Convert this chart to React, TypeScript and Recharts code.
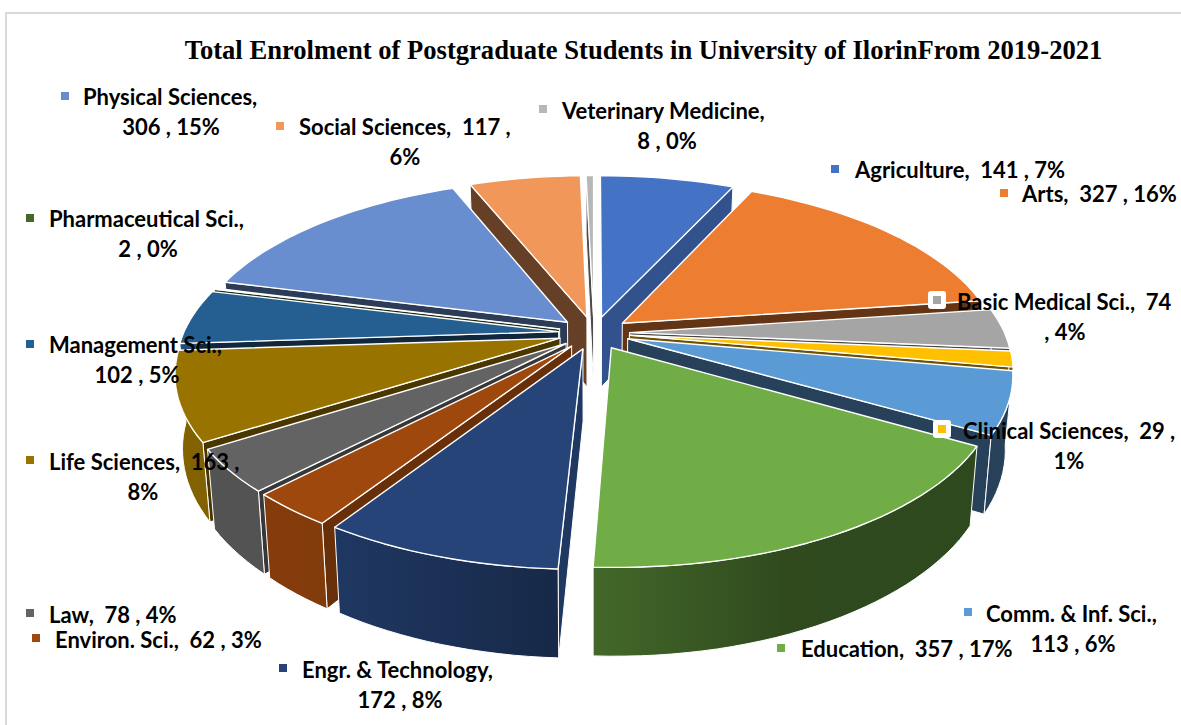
import { Pie, PieChart } from "recharts";

const categories = ["Agriculture", "Arts", "Basic Medical Sci.", "Clinical Sciences", "Comm. & Inf. Sci.", "Education", "Engr. & Technology", "Environ. Sci.", "Law", "Life Sciences", "Management Sci.", "Pharmaceutical Sci.", "Physical Sciences", "Social Sciences", "Veterinary Medicine"];
const enrolment = [141, 327, 74, 29, 113, 357, 172, 62, 78, 163, 102, 2, 306, 117, 8];
const colors = ["#4472c4", "#ed7d31", "#a5a5a5", "#ffc000", "#5b9bd5", "#70ad47", "#264478", "#9e480e", "#636363", "#997300", "#255e91", "#43682b", "#698ed0", "#f1975a", "#b7b7b7"];

const labelLines = [
  ["Agriculture,  141 , 7%"],
  ["Arts,  327 , 16%"],
  ["Basic Medical Sci.,  74", ", 4%"],
  ["Clinical Sciences,  29 ,", "1%"],
  ["Comm. & Inf. Sci.,", "113 , 6%"],
  ["Education,  357 , 17%"],
  ["Engr. & Technology,", "172 , 8%"],
  ["Environ. Sci.,  62 , 3%"],
  ["Law,  78 , 4%"],
  ["Life Sciences,  163 ,", "8%"],
  ["Management Sci.,", "102 , 5%"],
  ["Pharmaceutical Sci.,", "2 , 0%"],
  ["Physical Sciences,", "306 , 15%"],
  ["Social Sciences,  117 ,", "6%"],
  ["Veterinary Medicine,", "8 , 0%"],
];

// where each data label sits: [marker x, marker y, text left, first baseline, second line centre]
const labelSpots = [
  [835, 169, 855, 178, 0],
  [1004, 193, 1022, 202, 0],
  [937, 300, 957, 310, 1065],
  [942, 429, 963, 439, 1069],
  [968, 612, 986, 622, 1073],
  [781, 648, 801, 657, 0],
  [283, 668, 302, 678, 400],
  [36, 638, 55, 648, 0],
  [30, 613, 49, 623, 0],
  [30, 460, 49, 470, 143],
  [30, 344, 49, 353, 137],
  [30, 218, 49, 227, 148],
  [65, 96, 83, 105, 171],
  [280, 126, 299, 135, 405],
  [543, 109, 562, 119, 667],
];

const rows = categories.map((name, i) => ({ name, value: enrolment[i], fill: colors[i], idx: i }));
const reversedRows = [...rows].reverse();

const CX = 594;
const CY = 333;
const RX = 375;
const RY = 173;
const PERSPECTIVE = 0.185;
const EXPLODE = 0.095;
const DEPTH = 71;
const BOTTOM_SHRINK = 0.982;
const RAD = Math.PI / 180;

function shade(hex: string, f: number) {
  const n = parseInt(hex.slice(1), 16);
  const c = [(n >> 16) & 255, (n >> 8) & 255, n & 255].map((v) => Math.round(v * f));
  return `rgb(${c[0]},${c[1]},${c[2]})`;
}

// disc coords -> screen, with a bit of perspective so the front is bigger than the back
function project(u: number, v: number, bottom: boolean) {
  const s = 1 / (1 - PERSPECTIVE * v);
  const x = RX * u * s;
  const y = RY * v * s;
  return bottom ? [CX + x * BOTTOM_SHRINK, CY + y + DEPTH * s] : [CX + x, CY + y];
}

const toPath = (pts: number[][]) => "M" + pts.map((p) => `${p[0].toFixed(1)},${p[1].toFixed(1)}`).join("L") + "Z";

// the rim wall gets lighter towards the left of the pie
function rimLight(t: number) {
  if (t <= 150) return 0.42;
  if (t <= 183) return 0.42 + ((t - 150) / 33) * 0.18;
  if (t <= 213) return 0.6 + ((t - 183) / 30) * 0.22;
  return 0.84;
}

function Slice(props: any) {
  const { startAngle, endAngle, fill, part, side, payload } = props;
  // recharts angles -> clockwise from 12 o'clock, smaller one first
  let a = 90 - startAngle;
  let b = 90 - endAngle;
  if (a > b) [a, b] = [b, a];
  a = ((a % 360) + 360) % 360;
  b = a + Math.abs(endAngle - startAngle);
  const mid = (a + b) / 2;
  const color = fill || payload?.fill;
  const ox = Math.sin(mid * RAD) * EXPLODE;
  const oy = -Math.cos(mid * RAD) * EXPLODE;
  const rim = (t: number, bottom: boolean) => project(ox + Math.sin(t * RAD), oy - Math.cos(t * RAD), bottom);
  const steps = Math.max(2, Math.ceil((b - a) / 2));
  const angles = Array.from({ length: steps + 1 }, (_, i) => a + ((b - a) * i) / steps);
  const apexTop = project(ox, oy, false);
  const apexBottom = project(ox, oy, true);

  if (part === "top") {
    return <path d={toPath([apexTop, ...angles.map((t) => rim(t, false))])} fill={color} stroke="#fff" strokeWidth={1.4} strokeLinejoin="round" />;
  }

  if ((side === "right") !== mid < 180) return <g />;

  // radial walls: skip the ones turned away, the ones facing right catch the light
  const radialLight = (nx: number) => 0.42 + 0.4 * Math.pow(Math.max(0, nx), 3);
  const startNx = -Math.cos(a * RAD);
  const startNy = -Math.sin(a * RAD);
  const endNx = Math.cos(b * RAD);
  const endNy = Math.sin(b * RAD);
  const front = angles.filter((t) => Math.cos(t * RAD) < 0.12);
  const gradId = `wall-${payload.idx}-${side}`;
  return (
    <g stroke="#fff" strokeWidth={1} strokeLinejoin="round">
      <defs>
        <linearGradient id={gradId} x1="0" y1="0" x2="1" y2="0">
          <stop offset="0" stopColor={shade(color, rimLight(b))} />
          <stop offset="0.5" stopColor={shade(color, rimLight(mid))} />
          <stop offset="1" stopColor={shade(color, rimLight(a))} />
        </linearGradient>
      </defs>
      {startNy > 0.001 && <path d={toPath([apexTop, rim(a, false), rim(a, true), apexBottom])} fill={shade(color, radialLight(startNx))} />}
      {endNy > 0.001 && <path d={toPath([apexTop, rim(b, false), rim(b, true), apexBottom])} fill={shade(color, radialLight(endNx))} />}
      {front.length > 1 && (
        <path d={toPath([...front.map((t) => rim(t, false)), ...[...front].reverse().map((t) => rim(t, true))])} fill={`url(#${gradId})`} />
      )}
    </g>
  );
}

function DataLabel(props: any) {
  const i = props.idx ?? props.payload?.idx ?? props.index;
  const [mx, my, tx, ty, cx2] = labelSpots[i];
  const lines = labelLines[i];
  const boxed = i === 2 || i === 3;
  return (
    <g>
      {boxed && <rect x={mx - 9} y={my - 9} width={18} height={18} rx={3} fill="#fff" />}
      <rect x={mx - 4} y={my - 4} width={8} height={8} fill={colors[i]} />
      <text x={tx} y={ty} fontFamily="Lato" fontWeight={700} fontSize={22} fill="#000" style={{ whiteSpace: "pre" }}>
        {lines[0]}
      </text>
      {lines[1] && (
        <text x={cx2} y={ty + 30} textAnchor="middle" fontFamily="Lato" fontWeight={700} fontSize={22} fill="#000" style={{ whiteSpace: "pre" }}>
          {lines[1]}
        </text>
      )}
    </g>
  );
}

export default function App() {
  return (
    <div style={{ position: "absolute", left: 0, top: 0, width: 1181, height: 725, background: "#fff", overflow: "hidden" }}>
      <div style={{ position: "absolute", left: 5, top: 12, width: 1176, height: 713, borderLeft: "2px solid #d9d9d9", borderTop: "2px solid #d9d9d9" }} />
      <div style={{ position: "absolute", left: 0, top: 35, width: 1287, textAlign: "center", fontFamily: "Liberation Serif", fontWeight: 700, fontSize: 26.6, color: "#000", whiteSpace: "pre" }}>
        Total Enrolment of Postgraduate Students in University of IlorinFrom 2019-2021
      </div>
      <div style={{ position: "absolute", left: 0, top: 0 }}>
        <PieChart width={1181} height={725} margin={{ top: 0, right: 0, bottom: 0, left: 0 }}>
          <Pie data={rows} dataKey="value" nameKey="name" cx={CX} cy={CY} outerRadius={RX} startAngle={90} endAngle={-270} isAnimationActive={false} label={false} shape={(p: any) => <Slice {...p} part="walls" side="right" />} />
          <Pie data={reversedRows} dataKey="value" nameKey="name" cx={CX} cy={CY} outerRadius={RX} startAngle={-270} endAngle={90} isAnimationActive={false} label={false} shape={(p: any) => <Slice {...p} part="walls" side="left" />} />
          <Pie data={rows} dataKey="value" nameKey="name" cx={CX} cy={CY} outerRadius={RX} startAngle={90} endAngle={-270} isAnimationActive={false} labelLine={false} label={(p: any) => <DataLabel {...p} />} shape={(p: any) => <Slice {...p} part="top" />} />
        </PieChart>
      </div>
    </div>
  );
}
